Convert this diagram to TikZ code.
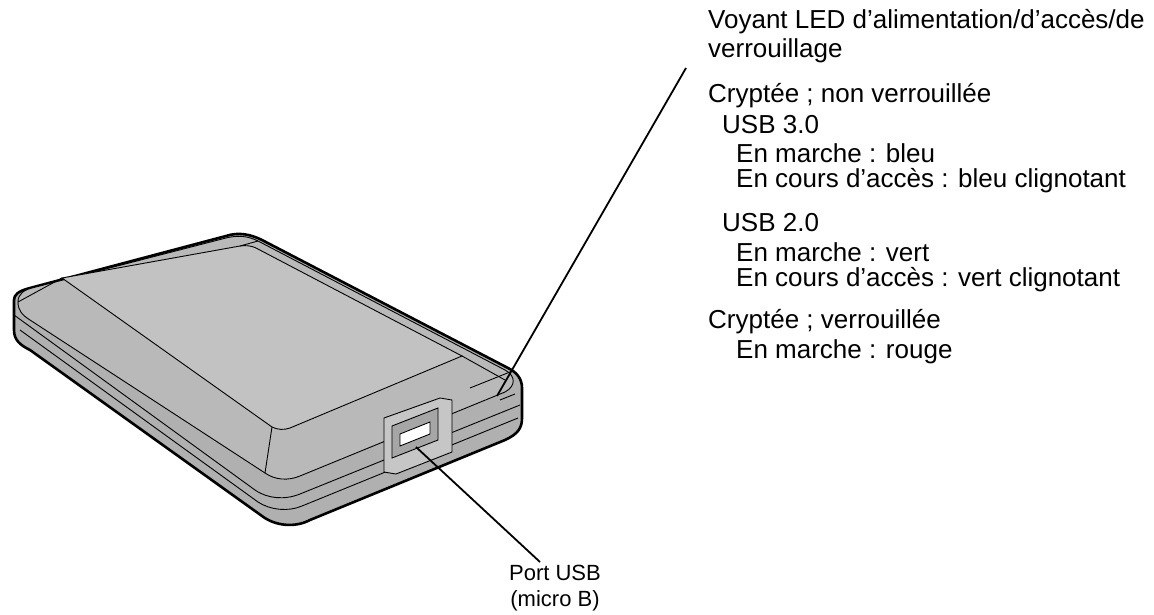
\documentclass[tikz,border=0pt]{standalone}
\usepackage{fontspec}
\setmainfont{Liberation Sans}
\begin{document}
\begin{tikzpicture}[x=1pt,y=-1pt,
  lbl/.style={anchor=west,inner sep=0pt,font=\fontsize{26}{28}\selectfont},
  edge/.style={line width=2.6pt,line join=round},
  thin/.style={line width=0.9pt},
  lead/.style={line width=1.8pt}]
\useasboundingbox (0,0) rectangle (1154,615);
% side / base
\draw[edge,fill=gray!62] (14,300) -- (14,330) .. controls (14,340) and (20,345) .. (30,350)
  -- (262,516) .. controls (275,526) and (295,528) .. (310,520)
  -- (505,440) .. controls (518,434) and (522,428) .. (522,418) -- (522,388)
  .. controls (522,378) and (516,372) .. (508,368) -- (262,240) .. controls (250,234) and (238,232) .. (226,236)
  -- (30,288) .. controls (18,291) and (14,295) .. (14,300) -- cycle;
% top face
\draw[thin,fill=gray!55] (18,302) .. controls (18,294) and (24,290) .. (32,288) -- (226,238) .. controls (238,235) and (248,236) .. (258,241)
 -- (505,370) .. controls (516,376) and (516,386) .. (505,392) -- (300,476) .. controls (288,481) and (275,480) .. (265,473) -- (30,320) .. controls (22,315) and (18,310) .. (18,302) -- cycle;
% inner panel
\draw[thin,fill=gray!48] (62,278) -- (240,246) .. controls (246,245) and (252,246) .. (256,248) -- (462,356)
  -- (290,428) .. controls (284,430) and (278,430) .. (272,427) -- cycle;
\draw[thin] (18,302)--(62,278) (258,241)--(240,246) (505,380)--(462,356) (265,473)--(272,427);
% side grooves
\draw[thin] (14,315) -- (255,490) .. controls (268,499) and (285,500) .. (300,494) -- (520,405);
\draw[thin] (20,330) -- (258,502) .. controls (270,510) and (288,512) .. (302,506) -- (518,418);
% LED
\draw[thin] (470,388) -- (510,372) (500,400) -- (515,394);
% port
\draw[thin,fill=gray!45] (384,418) -- (440,398) -- (452,400) -- (452,452) -- (396,474) -- (384,472) -- cycle;
\draw[thin,fill=gray!70] (392,426) -- (438,408) -- (438,440) -- (392,458) -- cycle;
\draw[thin,fill=white] (400,434) -- (430,422) -- (430,434) -- (400,446) -- cycle;
\coordinate (led) at (497,396);
\coordinate (port) at (416,447);
% texts
\node[lbl] (t1) at (708,22) {Voyant LED d’alimentation/d’accès/de};
\node[lbl] (t2) at (708,51) {verrouillage};
\node[lbl] (t3) at (708,96) {Cryptée ; non verrouillée};
\node[lbl] (t4) at (722,125) {USB 3.0};
\node[lbl] (t5) at (736,153) {En marche : bleu};
\node[lbl] (t6) at (736,181) {En cours d’accès : bleu clignotant};
\node[lbl] (t7) at (722,223) {USB 2.0};
\node[lbl] (t8) at (736,252) {En marche : vert};
\node[lbl] (t9) at (736,280) {En cours d’accès : vert clignotant};
\node[lbl] (t10) at (708,322) {Cryptée ; verrouillée};
\node[lbl] (t11) at (736,352) {En marche : rouge};
\node[font=\fontsize{22}{26}\selectfont,align=center,inner sep=0pt] (p) at (555,588) {Port USB\\(micro B)};
\coordinate (ledtop) at (686,68);
\coordinate (porttop) at (540,562);
\draw[lead] (led) -- (ledtop);
\draw[lead] (port) -- (porttop);
\end{tikzpicture}
\end{document}
